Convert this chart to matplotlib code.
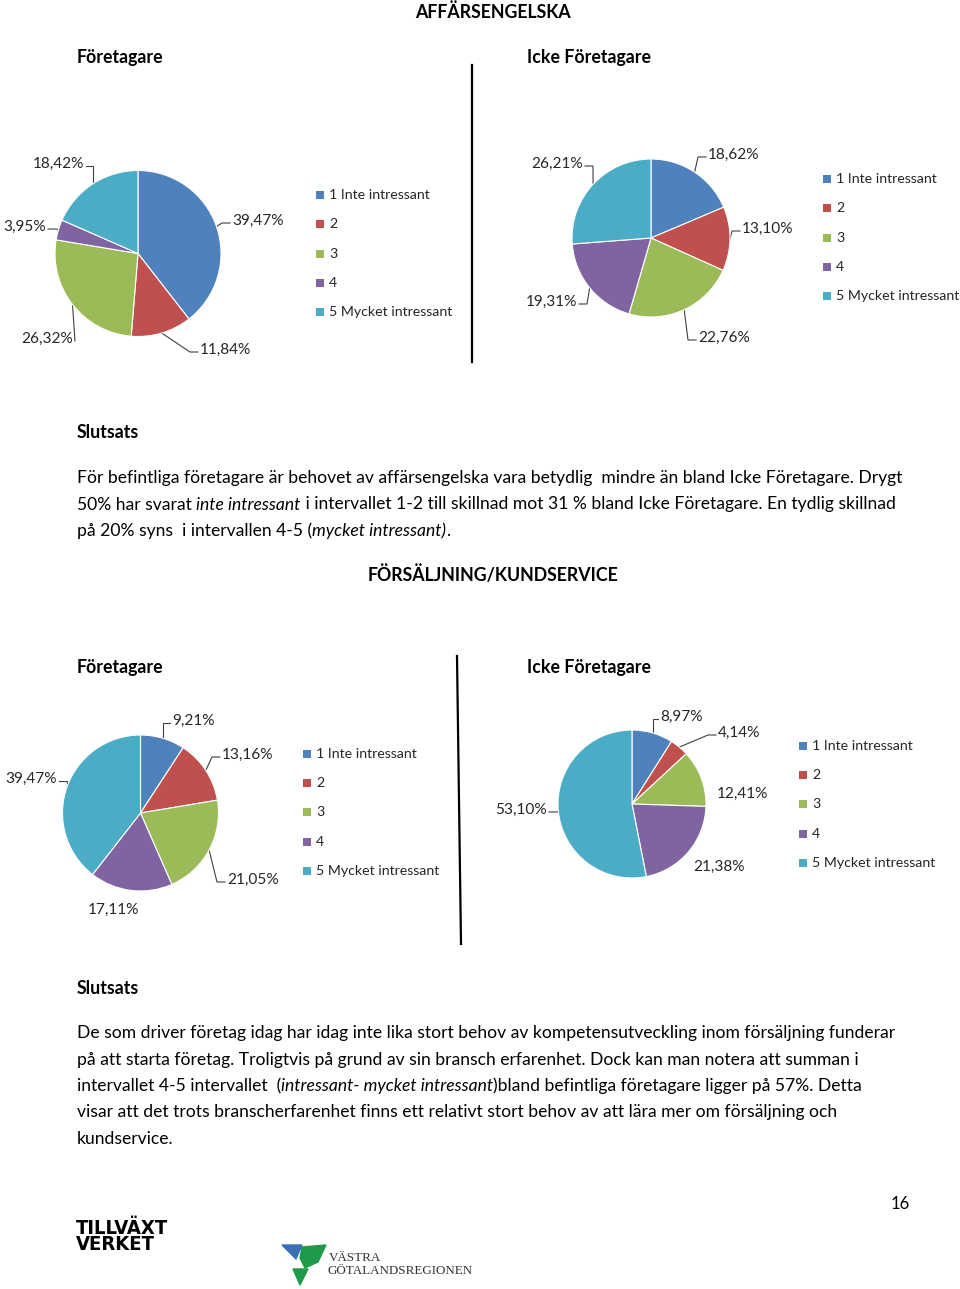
import matplotlib
matplotlib.use('Agg')
import matplotlib.pyplot as plt
import numpy as np
from matplotlib.patches import Polygon

# ---------------- data ----------------
categories = ['1 Inte intressant', '2', '3', '4', '5 Mycket intressant']
colors = ['#4F81BD', '#C0504D', '#9BBB59', '#8064A2', '#4BACC6']

aff_foretagare = [39.47, 11.84, 26.32, 3.95, 18.42]
aff_icke = [18.62, 13.10, 22.76, 19.31, 26.21]
fors_foretagare = [9.21, 13.16, 21.05, 17.11, 39.47]
fors_icke = [8.97, 4.14, 12.41, 21.38, 53.10]

title_1 = 'AFFÄRSENGELSKA'
title_2 = 'FÖRSÄLJNING/KUNDSERVICE'
group_left = 'Företagare'
group_right = 'Icke Företagare'
conclusion = 'Slutsats'

para_1 = [
    [("För befintliga företagare är behovet av affärsengelska vara betydlig  mindre än bland Icke Företagare. Drygt", 'normal')],
    [("50% har svarat ", 'normal'), ("inte intressant", 'italic'),
     (" i intervallet 1-2 till skillnad mot 31 % bland Icke Företagare. En tydlig skillnad", 'normal')],
    [("på 20% syns  i intervallen 4-5 (", 'normal'), ("mycket intressant)", 'italic'), (".", 'normal')],
]
para_2 = [
    [("De som driver företag idag har idag inte lika stort behov av kompetensutveckling inom försäljning funderar", 'normal')],
    [("på att starta företag. Troligtvis på grund av sin bransch erfarenhet. Dock kan man notera att summan i", 'normal')],
    [("intervallet 4-5 intervallet  (", 'normal'), ("intressant- mycket intressant", 'italic'),
     (")bland befintliga företagare ligger på 57%. Detta", 'normal')],
    [("visar att det trots branscherfarenhet finns ett relativt stort behov av att lära mer om försäljning och", 'normal')],
    [("kundservice.", 'normal')],
]
page_number = '16'

# ---------------- layout ----------------
W, H = 960, 1289
FONT = ['Lato', 'DejaVu Sans']
plt.rcParams['font.family'] = FONT

fig = plt.figure(figsize=(W / 100, H / 100), dpi=100)
bg = fig.add_axes([0, 0, 1, 1])
bg.set_xlim(0, W)
bg.set_ylim(H, 0)
bg.axis('off')
renderer = fig.canvas.get_renderer()

# pies: center (px), radius (px), label layout (x, y, ha, leader)
pies = [
    dict(values=aff_foretagare, c=(138, 253.5), r=83,
         labels=[(232, 221, 'left', True), (200, 350, 'left', True), (73, 339, 'right', True),
                 (46, 227, 'right', True), (84, 164, 'right', True)],
         legend=(320, 195, 29.3)),
    dict(values=aff_icke, c=(651, 238), r=79,
         labels=[(708, 155, 'left', True), (742, 229, 'left', True), (698, 338, 'left', True),
                 (577, 302, 'right', True), (583, 164, 'right', True)],
         legend=(827, 179, 29.3)),
    dict(values=fors_foretagare, c=(140.5, 813), r=78,
         labels=[(172, 721, 'left', True), (222, 755, 'left', True), (227, 880, 'left', True),
                 (88, 910, 'left', False), (57, 779, 'right', True)],
         legend=(307, 754, 29.2)),
    dict(values=fors_icke, c=(632, 804), r=74,
         labels=[(660, 717, 'left', True), (718, 733, 'left', True), (717, 794, 'left', False),
                 (693, 867, 'left', False), (547, 810, 'right', True)],
         legend=(803, 746, 29.2)),
]

LABEL_FS = 11.1
LEGEND_FS = 10.2
LEADER_C = '#404040'

for p in pies:
    cx, cy = p['c']
    r = p['r']
    pad = 1.03
    rect = [(cx - r * pad) / W, 1 - (cy + r * pad) / H, 2 * r * pad / W, 2 * r * pad / H]
    ax = fig.add_axes(rect)
    vals = p['values']
    ax.pie(vals, colors=colors, startangle=90, counterclock=False,
           wedgeprops=dict(edgecolor='white', linewidth=0.8), frame=True)
    ax.set_xlim(-pad, pad)
    ax.set_ylim(-pad, pad)
    ax.axis('off')

    # labels with leader lines
    cum = np.cumsum([0] + list(vals))
    total = cum[-1]
    for i, (v, (tx, ty, ha, leader)) in enumerate(zip(vals, p['labels'])):
        mid = (cum[i] + cum[i + 1]) / 2 / total * 2 * np.pi
        ex, ey = cx + r * np.sin(mid), cy - r * np.cos(mid)
        txt = f"{v:.2f}".replace('.', ',') + '%'
        bg.text(tx, ty, txt, ha=ha, va='center', fontsize=LABEL_FS, color='#262626')
        if leader:
            s = -1 if ha == 'left' else 1
            endx = tx + s * 2
            endy = ty + 2
            el = endx + s * min(8, max(0, s * (ex - endx)))
            bg.plot([ex, el, endx], [ey, endy, endy], color=LEADER_C, lw=0.8,
                    solid_joinstyle='miter')

    # legend
    lx, ly, dy = p['legend']
    for j, (cat, col) in enumerate(zip(categories, colors)):
        yy = ly + j * dy
        bg.add_patch(plt.Rectangle((lx - 4, yy - 4), 8, 8, facecolor=col, edgecolor='none'))
        bg.text(lx + 9, yy, cat, ha='left', va='center', fontsize=LEGEND_FS, color='#262626')

# separators
bg.plot([472, 472], [65, 362], color='black', lw=1.6)
bg.plot([457, 461], [656, 944], color='black', lw=1.6)

# headings
HEAD_FS = 12.8
bg.text(493, 12, title_1, ha='center', va='center', fontsize=HEAD_FS, fontweight='bold')
bg.text(493, 575, title_2, ha='center', va='center', fontsize=HEAD_FS, fontweight='bold')
for yy in (57, 667):
    bg.text(77, yy, group_left, ha='left', va='center', fontsize=HEAD_FS, fontweight='bold')
    bg.text(527, yy, group_right, ha='left', va='center', fontsize=HEAD_FS, fontweight='bold')
bg.text(77, 433, conclusion, ha='left', va='center', fontsize=HEAD_FS, fontweight='bold')
bg.text(77, 988, conclusion, ha='left', va='center', fontsize=HEAD_FS, fontweight='bold')

BODY_FS = 12.65
sentinel_w = bg.text(0, 0, '|', fontsize=BODY_FS)
sw = sentinel_w.get_window_extent(renderer).width
sentinel_w.remove()


def adv(s, style):
    t = bg.text(0, 0, s + '|', fontsize=BODY_FS, style=style)
    w = t.get_window_extent(renderer).width
    t.remove()
    return w - sw


def rich(lines, y0, dy):
    for k, segs in enumerate(lines):
        x = 77
        y = y0 + k * dy
        for s, style in segs:
            bg.text(x, y, s, ha='left', va='baseline', fontsize=BODY_FS, style=style, color='black')
            x += adv(s, style)


rich(para_1, 483, 26.5)
rich(para_2, 1038, 26.5)

bg.text(910, 1204, page_number, ha='right', va='center', fontsize=12)

# logos
bg.text(76, 1228, 'TILLVÄXT', ha='left', va='center', fontsize=14.5, fontweight='bold',
        family='DejaVu Sans', stretch='condensed')
bg.text(76, 1245, 'VERKET', ha='left', va='center', fontsize=14.5, fontweight='bold',
        family='DejaVu Sans', stretch='condensed')
bg.add_patch(Polygon([[282, 1245], [302, 1245], [296, 1259]], closed=True, color='#3D6FB6'))
bg.add_patch(Polygon([[302, 1247], [326, 1245], [318, 1262], [305, 1268], [300, 1258]],
                     closed=True, color='#1E9B48'))
bg.add_patch(Polygon([[293, 1269], [308, 1269], [300, 1285]], closed=True, color='#1E9B48'))
bg.text(329, 1258, 'VÄSTRA', ha='left', va='center', fontsize=9.4, family='Liberation Serif',
        color='#333333')
bg.text(328, 1271, 'GÖTALANDSREGIONEN', ha='left', va='center', fontsize=9.4,
        family='Liberation Serif', color='#333333')

fig.savefig('out.png', dpi=100)
